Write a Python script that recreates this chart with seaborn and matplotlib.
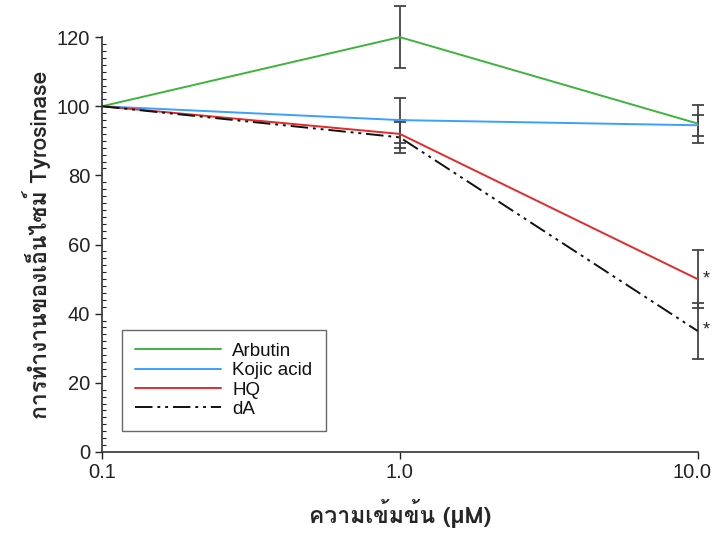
import numpy as np
import pandas as pd
import seaborn as sns
import matplotlib
matplotlib.use("Agg")
import matplotlib.pyplot as plt
from matplotlib import font_manager
from matplotlib.ft2font import FT2Font
from matplotlib.ticker import MultipleLocator, FixedLocator, NullLocator, FixedFormatter
from matplotlib.transforms import ScaledTranslation
from matplotlib.lines import Line2D

# ---- data ----
concentrations = [0.1, 1.0, 10.0]
arbutin = [100, 120, 95]
arbutin_err = [0, 9, 5.5]
kojic = [100, 96, 94.5]
kojic_err = [0, 6.5, 3]
hq = [100, 92, 50]
hq_err = [0, 4, 8.5]
da = [100, 91, 35]
da_err = [0, 4.5, 8]
series_names = ["Arbutin", "Kojic acid", "HQ", "dA"]
x_tick_labels = ["0.1", "1.0", "10.0"]
y_label = "การทำงานของเอ็นไซม์ Tyrosinase"
x_label = "ความเข้มข้น (μM)"

# ---- find a Thai-capable font ----
thai_family = None
for f in font_manager.fontManager.ttflist:
    try:
        cm = FT2Font(f.fname).get_charmap()
        if ord("ก") in cm and ord("ม") in cm:
            thai_family = f.name
            break
    except Exception:
        pass

sns.set_theme(style="ticks")
base = ["Liberation Sans", "DejaVu Sans"]
fam = ([thai_family] if thai_family else []) + base
plt.rcParams["font.family"] = base

df = pd.DataFrame({
    "conc": concentrations * 4,
    "value": arbutin + kojic + hq + da,
    "err": arbutin_err + kojic_err + hq_err + da_err,
    "series": sum([[n] * 3 for n in series_names], []),
})

colors = {"Arbutin": "#3cb43c", "Kojic acid": "#3aa0ff", "HQ": "#e42a2a", "dA": "#111111"}
da_dashes = [9, 2.5, 1.5, 2.5, 1.5, 2.5]

fig = plt.figure(figsize=(7.14, 5.38), dpi=100)
ax = fig.add_axes([0.143, 0.160, 0.834, 0.771])

sns.lineplot(data=df, x="conc", y="value", hue="series", palette=colors,
             hue_order=series_names, ax=ax, linewidth=1.4, legend=False)
for line, name in zip(ax.get_lines(), series_names):
    line.set_clip_on(False)
    if name == "dA":
        line.set_dashes(da_dashes)

for name in series_names:
    sub = df[df["series"] == name]
    sub = sub[sub["err"] > 0]
    cont = ax.errorbar(sub["conc"], sub["value"], yerr=sub["err"], fmt="none",
                       ecolor="#444444", elinewidth=1.3, capsize=4, capthick=1.3, zorder=1)
    for child in cont.get_children():
        child.set_clip_on(False)

ax.set_xscale("log")
ax.set_xlim(0.1, 10.0)
ax.set_ylim(0, 120)
ax.xaxis.set_major_locator(FixedLocator(concentrations))
ax.xaxis.set_major_formatter(FixedFormatter(x_tick_labels))
ax.xaxis.set_minor_locator(NullLocator())
ax.yaxis.set_major_locator(MultipleLocator(20))
ax.yaxis.set_minor_locator(MultipleLocator(2))
ax.tick_params(axis="both", which="major", labelsize=14.5, length=5, width=1, colors="#222222", direction="out")
ax.tick_params(axis="x", which="major", pad=3)
ax.tick_params(axis="y", which="minor", length=3, width=0.8, direction="in", colors="#222222")
for s in ["top", "right"]:
    ax.spines[s].set_visible(False)
for s in ["left", "bottom"]:
    ax.spines[s].set_color("#333333")
    ax.spines[s].set_linewidth(1.2)

# shift last x tick label slightly left so it stays inside the figure
lbls = ax.get_xticklabels()
lbls[-1].set_transform(lbls[-1].get_transform() + ScaledTranslation(-6 / 100, 0, fig.dpi_scale_trans))

ax.set_xlabel(x_label, fontsize=16.5, family=fam, fontweight="bold", labelpad=12)
ax.set_ylabel(y_label, fontsize=16.5, family=fam, fontweight="bold", labelpad=4)

# asterisks
ax.text(10.0, hq[2], " *", fontsize=13, va="center", ha="left")
ax.text(10.0, da[2], " *", fontsize=13, va="center", ha="left")

# legend
handles = []
for name in series_names:
    h = Line2D([], [], color=colors[name], linewidth=1.4)
    if name == "dA":
        h.set_dashes(da_dashes)
    handles.append(h)
leg = ax.legend(handles, series_names, loc="lower left", bbox_to_anchor=(0.033, 0.05),
                frameon=True, fancybox=False, fontsize=13.5, handlelength=4.6,
                labelspacing=0.12, borderpad=0.7, handletextpad=0.6, borderaxespad=0)
leg.get_frame().set_edgecolor("#444444")
leg.get_frame().set_linewidth(1.0)
leg.get_frame().set_boxstyle("square", pad=0)
for t in leg.get_texts():
    t.set_color("#111111")

fig.savefig("out.png", dpi=100)
